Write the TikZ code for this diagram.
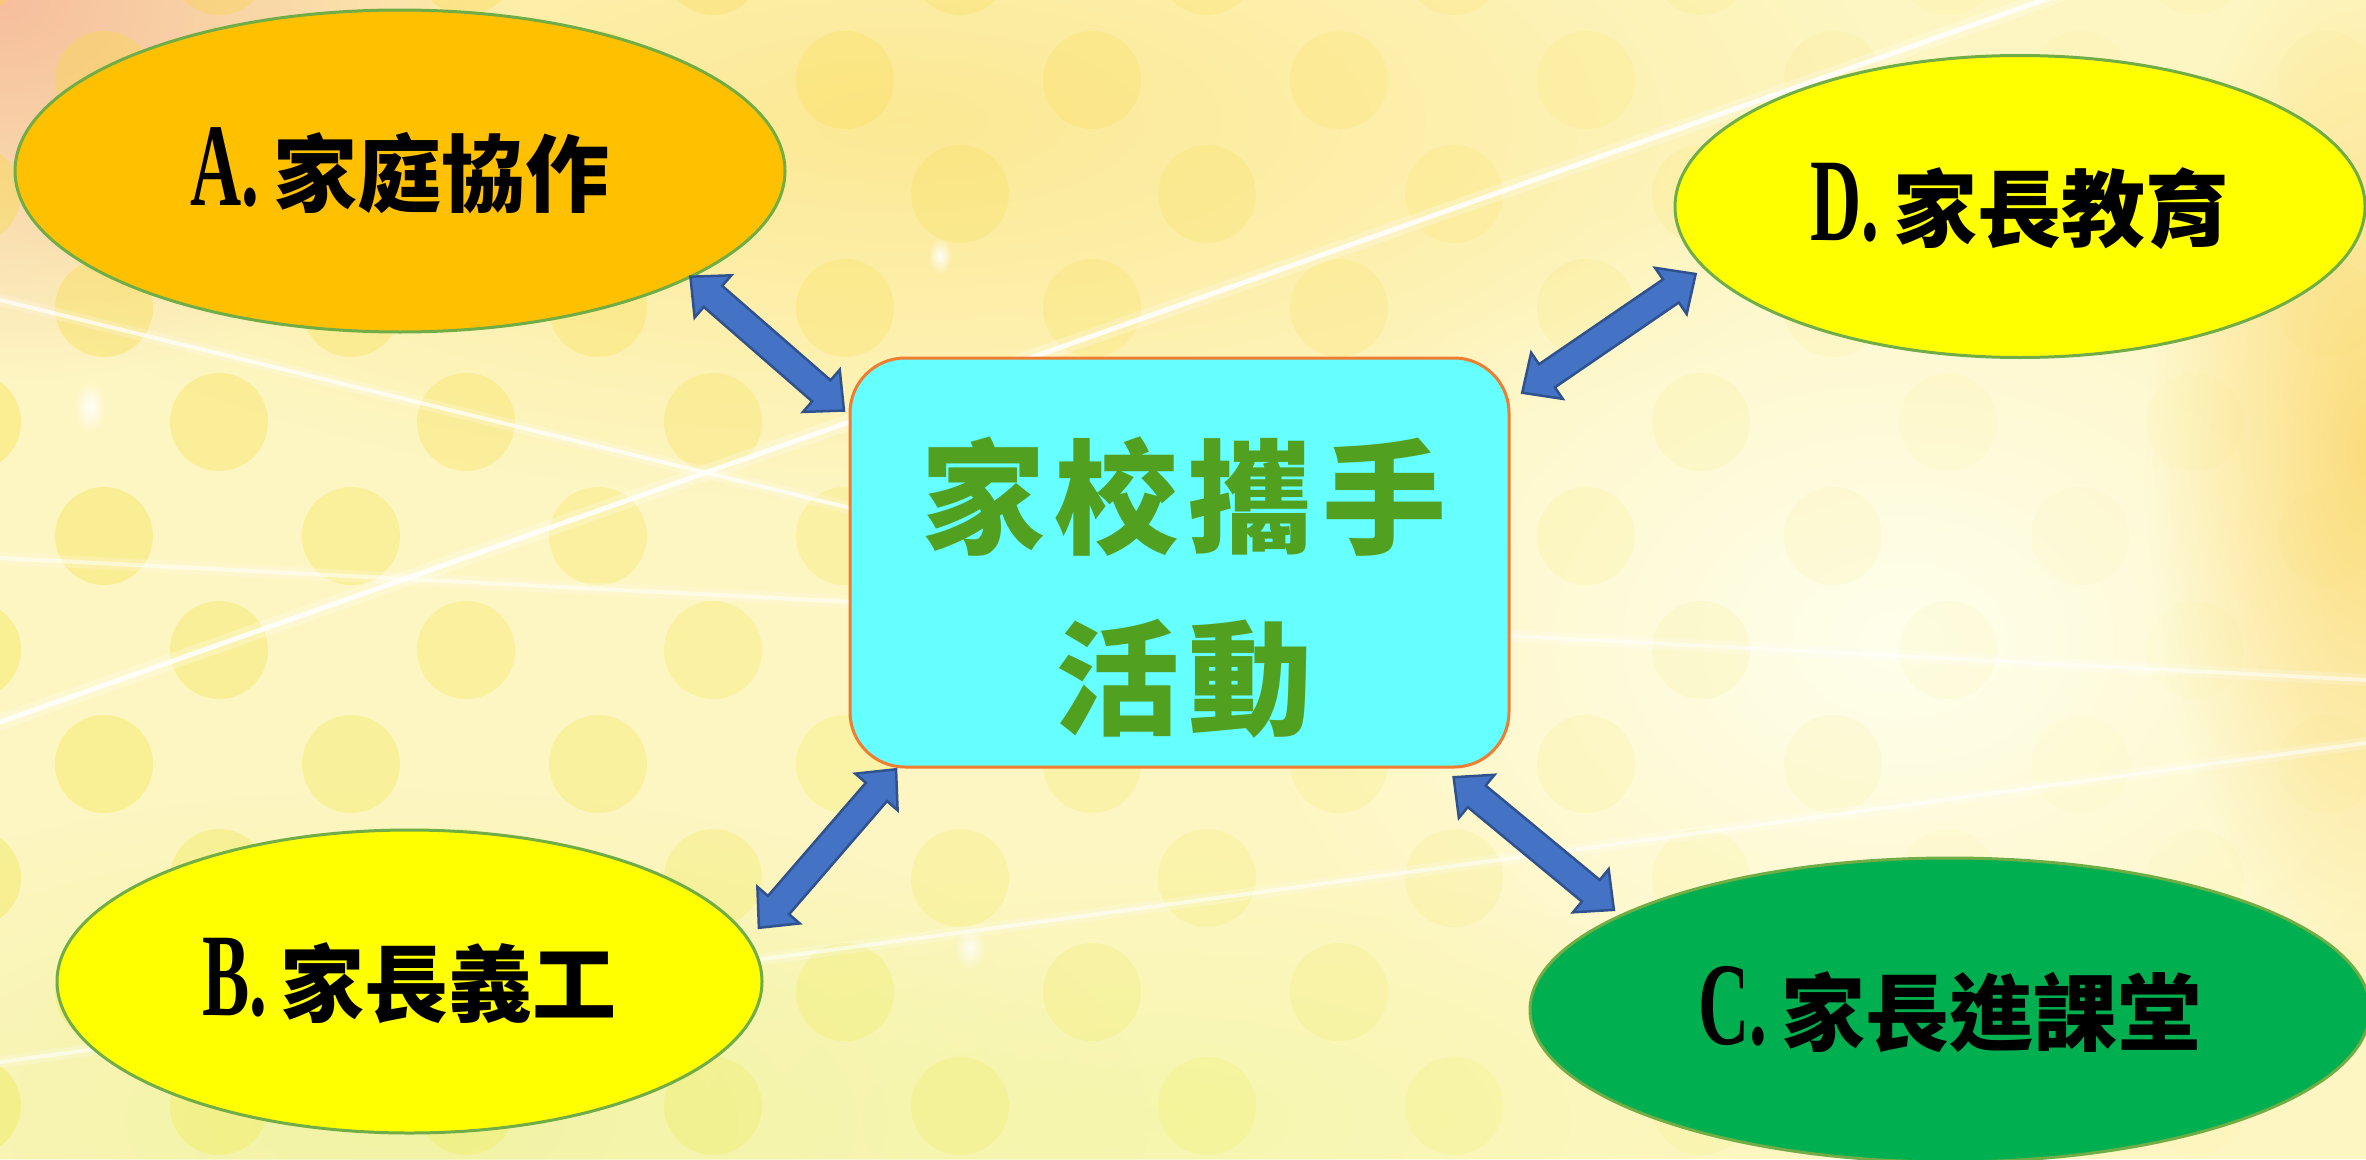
\documentclass[tikz,border=0pt]{standalone}
\usepackage{fontspec}
\usepackage{graphicx}
\usetikzlibrary{calc,shapes.geometric,fadings}
\newfontfamily\cjk{Noto Sans CJK TC}
\newfontfamily\latinb{Liberation Serif}
\definecolor{ovalborder}{HTML}{70AD47}
\definecolor{hubborder}{HTML}{ED7D31}
\definecolor{hubfill}{HTML}{66FFFF}
\definecolor{arrowblue}{HTML}{4472C4}
\definecolor{arrowedge}{HTML}{2F528F}
\definecolor{fillA}{HTML}{FFC000}
\definecolor{fillY}{HTML}{FFFF00}
\definecolor{fillC}{HTML}{00B050}
\definecolor{hubtext}{HTML}{52A020}
\definecolor{bgbase}{HTML}{FEF6C2}
\definecolor{dottop}{HTML}{F9D83C}
\definecolor{dotbot}{HTML}{ECEC48}
\tikzfading[name=glow, inner color=transparent!0, outer color=transparent!100]
\newcommand\lat[1]{\scalebox{0.6}[1]{\latinb\bfseries\fontsize{118}{120}\selectfont #1}}
\newcommand\blockarrow[4]{%
  \coordinate (ba1) at ($(#1)!#3!(#2)$);
  \coordinate (ba2) at ($(#2)!#4!(#1)$);
  \coordinate (bh1) at ($(ba1)!30pt!(ba2)$);
  \coordinate (bh2) at ($(ba2)!30pt!(ba1)$);
  \draw[blockarr] (ba1) -- ($(bh1)!28pt!90:(ba2)$) -- ($(bh1)!14pt!90:(ba2)$)
    -- ($(bh2)!14pt!-90:(ba1)$) -- ($(bh2)!28pt!-90:(ba1)$) -- (ba2)
    -- ($(bh2)!28pt!90:(ba1)$) -- ($(bh2)!14pt!90:(ba1)$)
    -- ($(bh1)!14pt!-90:(ba2)$) -- ($(bh1)!28pt!-90:(ba2)$) -- cycle;
}
\tikzset{
  oval/.style={ellipse, draw=ovalborder, line width=3pt, inner sep=0pt, outer sep=0pt,
    font=\cjk\bfseries\fontsize{84}{90}\selectfont, text=black},
  hub/.style={rectangle, rounded corners=55pt, draw=hubborder, fill=hubfill, line width=3pt,
    minimum width=659pt, minimum height=409pt, inner sep=0pt, outer sep=0pt},
  hubtxt/.style={inner sep=0pt, text=hubtext, font=\cjk\bfseries\fontsize{124}{140}\selectfont},
  blockarr/.style={fill=arrowblue, draw=arrowedge, line width=2.5pt, line join=miter},
  streak/.style={white, line cap=round},
  bgglow/.style={path fading=glow},
}
\begin{document}
\begin{tikzpicture}[x=1pt,y=-1pt]
\useasboundingbox (0,0) rectangle (2366,1159);
\begin{scope}
\clip (0,0) rectangle (2366,1159);
% background
\fill[bgbase] (0,0) rectangle (2366,1159);
\fill[bgglow, color={rgb,255:red,251;green,222;blue,110}, opacity=0.55] (900,120) ellipse (1000pt and 380pt);
\fill[bgglow, color={rgb,255:red,245;green,180;blue,150}, opacity=0.85] (0,0) ellipse (520pt and 380pt);
\fill[bgglow, color={rgb,255:red,255;green,255;blue,238}, opacity=0.95] (1900,640) ellipse (650pt and 480pt);
\fill[bgglow, color={rgb,255:red,251;green,214;blue,106}, opacity=0.8] (2366,450) ellipse (220pt and 520pt);
\fill[bgglow, color={rgb,255:red,236;green,242;blue,150}, opacity=0.7] (400,1120) ellipse (750pt and 330pt);
\fill[bgglow, color={rgb,255:red,240;green,246;blue,160}, opacity=0.6] (1150,1120) ellipse (650pt and 260pt);
% dots
\foreach \j in {0,...,11}{
  \pgfmathsetmacro\yy{-34+114*\j}
  \pgfmathsetmacro\xo{mod(\j,2)==1 ? 104 : -28}
  \foreach \i in {0,...,10}{
    \pgfmathsetmacro\xx{\xo+247*\i}
    \pgfmathsetmacro\op{max(0.04,0.36-0.00016*\xx)}
    \pgfmathtruncatemacro\mx{min(100,max(0,100-\yy/11.6))}
    \fill[dottop!\mx!dotbot, opacity=\op] (\xx,\yy) circle[radius=49pt];
  }
}
% light streaks
\draw[streak, line width=16pt, opacity=0.25] (0,722) -- (2366,-114);
\draw[streak, line width=5pt, opacity=0.85] (0,722) -- (2366,-114);
\draw[streak, line width=12pt, opacity=0.2] (0,300) -- (850,508);
\draw[streak, line width=4pt, opacity=0.7] (0,300) -- (850,508);
\draw[streak, line width=12pt, opacity=0.2] (0,558) -- (2366,680);
\draw[streak, line width=4pt, opacity=0.5] (0,558) -- (2366,680);
\draw[streak, line width=12pt, opacity=0.2] (0,1062) -- (2366,743);
\draw[streak, line width=4pt, opacity=0.55] (0,1062) -- (2366,743);
\fill[bgglow, white, opacity=0.9] (90,407) ellipse (16pt and 26pt);
\fill[bgglow, white, opacity=0.9] (940,256) ellipse (12pt and 18pt);
\fill[bgglow, white, opacity=0.8] (970,948) ellipse (16pt and 22pt);
% shapes
\node[hub] (box) at (1179.5,562.5) {};
\node[hubtxt] (t1) at (1184,497) {家\hspace{10pt}校\hspace{10pt}攜\hspace{10pt}手};
\node[hubtxt] (t2) at (1184,679) {活\hspace{10pt}動};
\node[oval, fill=fillA, minimum width=770pt, minimum height=322pt] (A) at (400,171) {\lat{A.}\hspace{14pt}家庭協作};
\node[oval, fill=fillY, minimum width=690pt, minimum height=302pt] (D) at (2020,206.5) {\lat{D.}\hspace{14pt}家長教育};
\node[oval, fill=fillY, minimum width=705pt, minimum height=303pt] (B) at (409.5,981.5) {\lat{B.}\hspace{14pt}家長義工};
\node[oval, fill=fillC, minimum width=840pt, minimum height=304pt] (C) at (1950,1010) {\lat{C.}\hspace{14pt}家長進課堂};
% arrows
\blockarrow{A.-20.7}{box.156.6}{0pt}{8pt}
\blockarrow{box.26.56}{D.191.94}{16pt}{11pt}
\blockarrow{box.216.17}{B.7.88}{3pt}{16pt}
\blockarrow{box.-38.56}{C.164.5}{16pt}{9pt}
\end{scope}
\end{tikzpicture}
\end{document}
